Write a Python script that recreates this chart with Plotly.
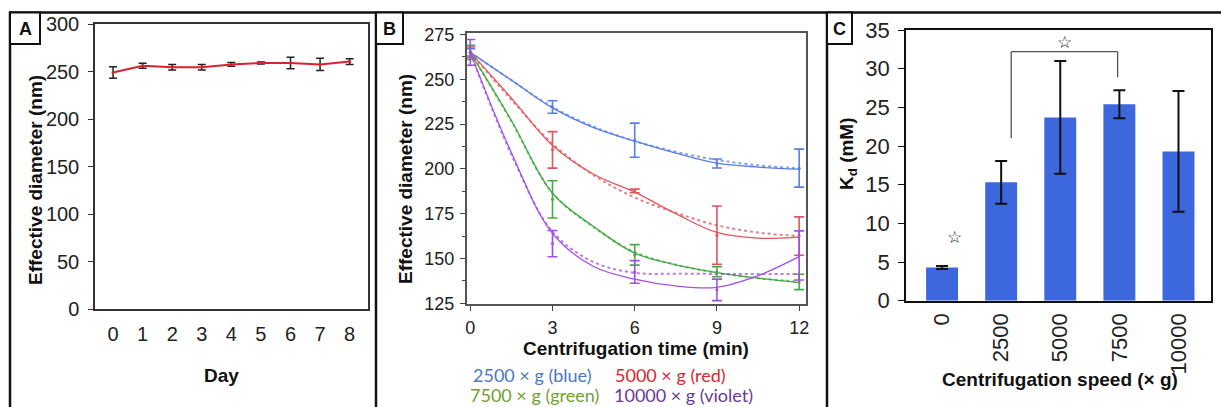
import plotly.graph_objects as go

W, H = 1221, 407

# ---------------- Panel A: stability over days ----------------
days = [0, 1, 2, 3, 4, 5, 6, 7, 8]
diam_days = [249, 256, 254.5, 254.5, 257.5, 259, 259, 257.5, 260.5]
diam_days_err = [6, 2.7, 3, 3, 2, 1, 6, 6.5, 3]

# ---------------- Panel B: centrifugation time ----------------
t_meas = [0, 3, 6, 9, 12]
blue_meas = [265, 234.5, 216, 203, 200.4]
blue_err = [2, 3.5, 9.5, 2.5, 10.6]
red_meas = [265, 210.6, 187.7, 163, 162.5]
red_err = [3, 10.2, 1, 16.3, 10.7]
green_meas = [265, 183, 152, 142.6, 136.9]
green_err = [4, 10.4, 5.7, 2.8, 4.3]
violet_meas = [265, 158.3, 142.5, 132.5, 151.7]
violet_err = [7.2, 7.3, 6.3, 6, 13.7]

t_fit = [0, 1.5, 3, 4.5, 6, 7.5, 9, 10.5, 12]
blue_fit = [265, 249.5, 234, 223, 215.5, 208.8, 203.2, 201, 199.8]
blue_fit_dot = [265, 249.5, 234.5, 223.5, 215.5, 209.5, 205, 202, 200.2]
red_fit = [265, 239.5, 213, 197, 187, 175, 164.5, 161.3, 161.9]
red_fit_dot = [265, 238.5, 214, 196.5, 184, 175.5, 168.5, 164.5, 162.5]
green_fit = [265, 227, 186.4, 167.8, 153, 146.4, 142.1, 139, 136.5]
green_fit_dot = [265, 226.5, 186.5, 167.5, 153.5, 146.5, 142, 139, 137]
violet_fit = [265, 209, 164, 145.5, 138.5, 134.7, 133.9, 140.4, 151]
violet_fit_dot = [265, 208, 165, 148, 142, 141.5, 141.4, 141.4, 141.4]

legend_labels = ["2500 × g (blue)", "5000 × g (red)", "7500 × g (green)", "10000 × g (violet)"]

# ---------------- Panel C: Kd vs speed ----------------
speeds = ["0", "2500", "5000", "7500", "10000"]
kd = [4.3, 15.3, 23.7, 25.4, 19.3]
kd_err = [0.2, 2.75, 7.3, 1.8, 7.8]


def px(x):
    return x / W


def py(y):
    return 1 - y / H


ARIAL = "Liberation Sans, Arial, sans-serif"
fig = go.Figure()

# Panel A trace
fig.add_trace(go.Scatter(
    x=days, y=diam_days, mode="lines+markers", xaxis="x", yaxis="y",
    line=dict(color="#d8232f", width=2),
    marker=dict(size=3, color="#d8232f"),
    error_y=dict(type="data", array=diam_days_err, color="#222222", thickness=1.5, width=4),
    showlegend=False,
))

# Panel B traces
series = [
    (blue_meas, blue_err, blue_fit, blue_fit_dot, "#5a7fe3"),
    (red_meas, red_err, red_fit, red_fit_dot, "#e0565e"),
    (green_meas, green_err, green_fit, green_fit_dot, "#45aa45"),
    (violet_meas, violet_err, violet_fit, violet_fit_dot, "#a24fe6"),
]
for meas, err, fit, fit_dot, col in series:
    fig.add_trace(go.Scatter(
        x=t_fit, y=fit_dot, mode="lines", xaxis="x2", yaxis="y2",
        line=dict(color=col, width=2, dash="dot", shape="spline", smoothing=1.0),
        opacity=0.75, showlegend=False,
    ))
    fig.add_trace(go.Scatter(
        x=t_fit, y=fit, mode="lines", xaxis="x2", yaxis="y2",
        line=dict(color=col, width=1.3, shape="spline", smoothing=1.0),
        showlegend=False,
    ))
    fig.add_trace(go.Scatter(
        x=t_meas, y=meas, mode="markers", xaxis="x2", yaxis="y2",
        marker=dict(size=3, color=col),
        error_y=dict(type="data", array=err, color=col, thickness=1.6, width=5),
        showlegend=False,
    ))

# Panel C bars
fig.add_trace(go.Bar(
    x=speeds, y=kd, xaxis="x3", yaxis="y3", width=0.54,
    marker=dict(color="#3d67dd", line=dict(width=0)),
    error_y=dict(type="data", array=kd_err, color="#111111", thickness=2, width=6),
    showlegend=False,
))

tickfont_a = dict(family=ARIAL, size=20, color="#222222")
tickfont_b = dict(family=ARIAL, size=18, color="#222222")
tickfont_c = dict(family=ARIAL, size=22, color="#222222")

common = dict(showgrid=False, zeroline=False, automargin=False, showline=True, mirror=True)

fig.update_layout(
    width=W, height=H, margin=dict(l=0, r=0, t=0, b=0, autoexpand=False),
    paper_bgcolor="white", plot_bgcolor="white",
    xaxis=dict(domain=[px(95), px(368)], range=[-0.61, 8.62], anchor="y",
               tickvals=days, ticks="", linecolor="#333333", linewidth=1.5,
               tickfont=tickfont_a, ticklabelstandoff=6, **common),
    yaxis=dict(domain=[py(309), py(24)], range=[0, 300], anchor="x",
               tickvals=[0, 50, 100, 150, 200, 250, 300], ticks="outside", ticklen=5,
               tickcolor="#333333", linecolor="#333333", linewidth=1.5,
               tickfont=tickfont_a, ticklabelstandoff=5, **common),
    xaxis2=dict(domain=[px(467), px(806)], range=[-0.12, 12.25], anchor="y2",
                tickvals=[0, 3, 6, 9, 12], ticks="outside", ticklen=5, tickcolor="#444444",
                linecolor="#555555", linewidth=2,
                tickfont=tickfont_b, ticklabelstandoff=1, **common),
    yaxis2=dict(domain=[py(304), py(33)], range=[124.6, 275.8], anchor="x2",
                tickvals=[125, 150, 175, 200, 225, 250, 275], ticks="outside", ticklen=5,
                tickcolor="#444444",
                minor=dict(tickvals=[137.5, 162.5, 187.5, 212.5, 237.5, 262.5],
                           ticks="outside", ticklen=3, tickcolor="#444444", showgrid=False),
                linecolor="#555555", linewidth=2,
                tickfont=tickfont_b, ticklabelstandoff=2, **common),
    xaxis3=dict(domain=[px(906), px(1211)], range=[-0.61, 4.55], anchor="y3",
                type="category", ticks="", tickangle=-90,
                linecolor="#111111", linewidth=1.5,
                tickfont=tickfont_c, ticklabelstandoff=2, **common),
    yaxis3=dict(domain=[py(300.7), py(30)], range=[0, 35], anchor="x3",
                tickvals=[0, 5, 10, 15, 20, 25, 30, 35], ticks="outside", ticklen=6,
                tickcolor="#111111", linecolor="#111111", linewidth=1.5,
                tickfont=tickfont_c, ticklabelstandoff=4, **common),
)

shapes = []
frame = dict(color="#111111", width=2.5)
# panel frames
shapes.append(dict(type="line", xref="paper", yref="paper", x0=px(9), x1=1.0, y0=py(12.5), y1=py(12.5), line=frame))
for xv in (10, 376, 827):
    shapes.append(dict(type="line", xref="paper", yref="paper", x0=px(xv), x1=px(xv),
                       y0=py(12), y1=0.0, line=frame))
# panel letter boxes
for x0, x1 in ((10, 40), (376, 403), (827, 852)):
    shapes.append(dict(type="rect", xref="paper", yref="paper", x0=px(x0), x1=px(x1),
                       y0=py(44), y1=py(12.5), line=dict(color="#111111", width=2),
                       fillcolor="white"))
# significance bracket in panel C
br = dict(color="#555555", width=1.3)
shapes.append(dict(type="line", xref="x3", yref="y3", x0=1.17, x1=1.17, y0=21, y1=32.2, line=br))
shapes.append(dict(type="line", xref="x3", yref="y3", x0=1.17, x1=2.97, y0=32.2, y1=32.2, line=br))
shapes.append(dict(type="line", xref="x3", yref="y3", x0=2.97, x1=2.97, y0=28.9, y1=32.2, line=br))
fig.update_layout(shapes=shapes)

ann = []
title_font = dict(family=ARIAL, size=19, color="#111111")


def paper_text(text, x, y, font, angle=0, xanchor="center", yanchor="middle"):
    ann.append(dict(text=text, x=px(x), y=py(y), xref="paper", yref="paper",
                    showarrow=False, font=font, textangle=angle,
                    xanchor=xanchor, yanchor=yanchor))


# panel letters
letter_font = dict(family=ARIAL, size=18, color="#111111")
paper_text("<b>A</b>", 25, 28.5, letter_font)
paper_text("<b>B</b>", 389.5, 28.5, letter_font)
paper_text("<b>C</b>", 839.5, 28.5, letter_font)

# axis titles
paper_text("<b>Effective diameter (nm)</b>", 35, 180, title_font, angle=-90)
paper_text("<b>Day</b>", 221, 375, title_font)
paper_text("<b>Effective diameter (nm)</b>", 405, 179, title_font, angle=-90)
paper_text("<b>Centrifugation time (min)</b>", 636, 348, title_font)
paper_text("<b>K<sub>d</sub> (mM)</b>", 848, 154, title_font, angle=-90)
paper_text("<b>Centrifugation speed (× g)</b>", 1060, 379, title_font)

# panel B colour key
key_font = "Lato, Noto Sans, sans-serif"
key_cols = ["#4a78c6", "#e0262c", "#72a034", "#6a3a9c"]
key_pos = [(471, 375), (613, 375), (468, 395), (612, 395)]
for label, col, (kx, ky) in zip(legend_labels, key_cols, key_pos):
    paper_text(label, kx, ky, dict(family=key_font, size=18, color=col), xanchor="left")

# significance stars in panel C
star_font = dict(family="DejaVu Sans", size=17, color="#222222")
ann.append(dict(text="☆", x=0.21, y=8.2, xref="x3", yref="y3", showarrow=False, font=star_font))
ann.append(dict(text="☆", x=2.07, y=33.4, xref="x3", yref="y3", showarrow=False, font=star_font))

fig.update_layout(annotations=ann)

fig.write_html("out.html")
